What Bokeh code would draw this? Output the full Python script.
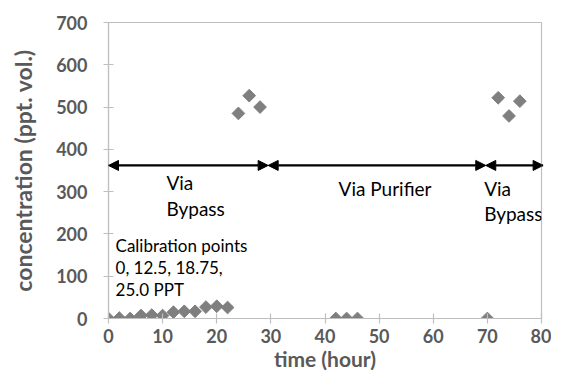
from bokeh.plotting import figure
from bokeh.models import Range1d, FixedTicker, Label, Arrow, NormalHead, ColumnDataSource
from bokeh.embed import file_html
from bokeh.resources import INLINE

# data (hours, ppt vol.)
time_h = [0, 2, 4, 6, 8, 10, 12, 14, 16, 18, 20, 22,
          24, 26, 28,
          42, 44, 46,
          70,
          72, 74, 76]
conc = [0, 1, 0, 7, 8, 7, 15, 17, 17, 27, 29, 26,
        485, 527, 500,
        0, 0, 0,
        0,
        522, 479, 514]

x_ticks = [0, 10, 20, 30, 40, 50, 60, 70, 80]
y_ticks = [0, 100, 200, 300, 400, 500, 600, 700]

# arrow segments (start, end) in hours, all at the same level
seg_start = [0, 29.5, 69.7]
seg_end = [29.5, 69.7, 80.3]
arrow_level = 362

# annotation texts: (text, x, y)
notes = [("Via", 10.7, 322), ("Bypass", 10.7, 260),
         ("Via Purifier", 42.5, 307),
         ("Via", 69.4, 307), ("Bypass", 69.4, 248)]
calib_lines = [("Calibration points", 1.3, 172),
               ("0, 12.5, 18.75,", 1.3, 120),
               ("25.0 PPT", 1.3, 68)]

FONT = "Lato"
GRAY = "#595959"
AX = "#BFBFBF"

p = figure(width=551, height=374, output_backend="svg", toolbar_location=None,
           x_range=Range1d(0, 80), y_range=Range1d(0, 700),
           min_border_left=108, min_border_right=10, min_border_top=22, min_border_bottom=56)
p.xgrid.visible = False
p.ygrid.visible = False
p.outline_line_color = AX
p.outline_line_width = 1.2
p.background_fill_color = "white"
p.border_fill_color = "white"

for ax in (p.xaxis[0], p.yaxis[0]):
    ax.axis_line_color = AX
    ax.axis_line_width = 1.2
    ax.major_tick_line_color = AX
    ax.major_tick_line_width = 1.2
    ax.major_tick_in = 5
    ax.major_tick_out = 5
    ax.minor_tick_line_color = None
    ax.major_label_text_font = FONT
    ax.major_label_text_font_style = "bold"
    ax.major_label_text_font_size = "18px"
    ax.major_label_text_color = GRAY
    ax.axis_label_text_font = FONT
    ax.axis_label_text_font_style = "bold"
    ax.axis_label_text_color = GRAY

p.xaxis.axis_label_text_font_size = "21px"
p.yaxis.axis_label_text_font_size = "23px"
p.xaxis.ticker = FixedTicker(ticks=x_ticks)
p.yaxis.ticker = FixedTicker(ticks=y_ticks)
p.xaxis.axis_label = "time (hour)"
p.yaxis.axis_label = "concentration (ppt. vol.)"
p.xaxis.major_label_standoff = 5
p.yaxis.major_label_standoff = 16
p.xaxis.axis_label_standoff = 0
p.yaxis.axis_label_standoff = 16

src = ColumnDataSource(dict(x=time_h, y=conc))
p.scatter("x", "y", source=src, marker="square", size=9, angle=45, angle_units="deg",
          fill_color="#7F7F7F", line_color="#7F7F7F")

for s, e in zip(seg_start, seg_end):
    p.add_layout(Arrow(x_start=s, y_start=arrow_level, x_end=e, y_end=arrow_level,
                       line_color="black", line_width=2.2,
                       start=NormalHead(size=10, fill_color="black", line_color="black"),
                       end=NormalHead(size=10, fill_color="black", line_color="black")))

for t, x, y in notes:
    p.add_layout(Label(x=x, y=y, text=t, text_font=FONT, text_font_size="19px",
                       text_color="black", text_baseline="middle", text_align="left"))
for t, x, y in calib_lines:
    p.add_layout(Label(x=x, y=y, text=t, text_font=FONT, text_font_size="17px",
                       text_color="black", text_baseline="middle", text_align="left"))

open("out.html", "w").write(file_html(p, INLINE))
